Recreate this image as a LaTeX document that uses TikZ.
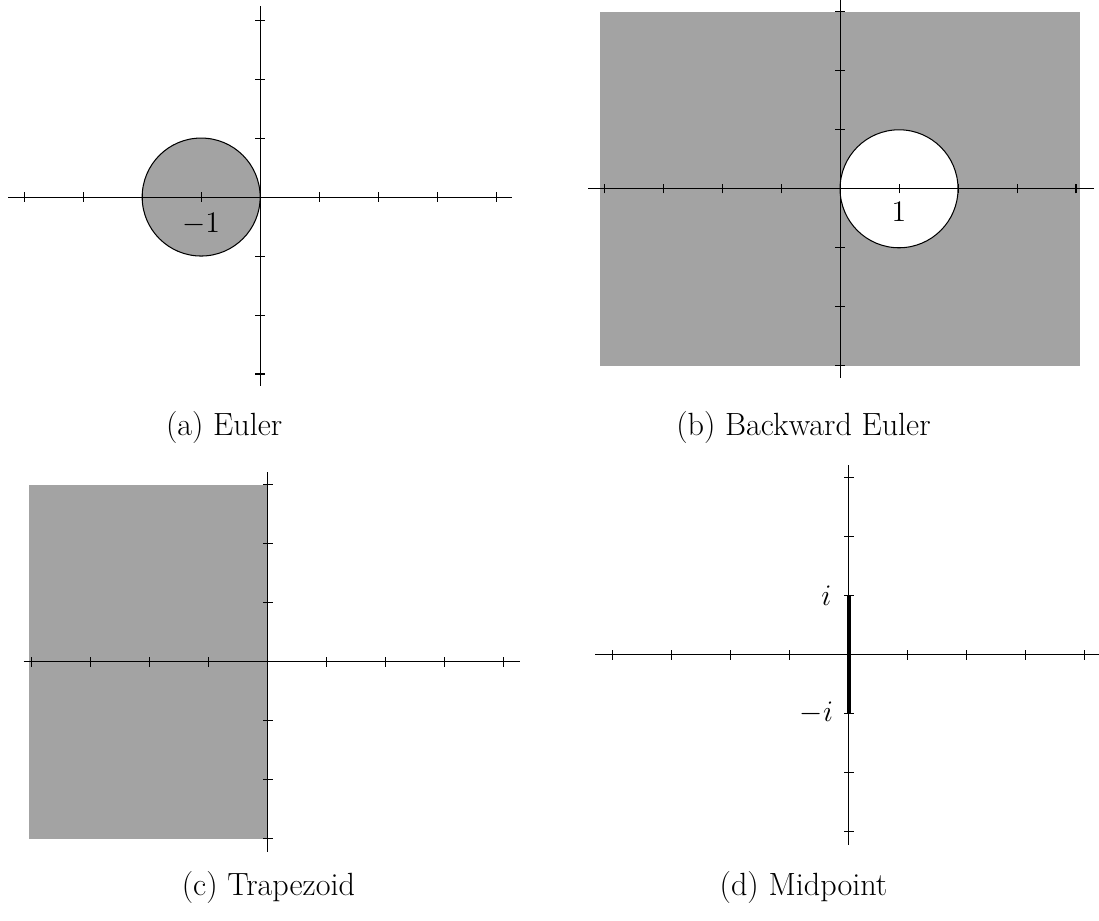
\documentclass[tikz,border=0pt]{standalone}
\usepackage{amsmath}
\usepackage{tikz}

\tikzset{
  axisline/.style={draw=black, line width=0.5pt},
  tickmark/.style={draw=black, line width=0.5pt},
  stabfill/.style={fill=black!36},
  rim/.style={draw=black, line width=0.5pt},
  captext/.style={font=\fontsize{15.5}{18}\selectfont}
}

\begin{document}
\begin{tikzpicture}[font=\Large]
  \useasboundingbox (0,0) rectangle (18.63,-15.61);

  % (a) Euler
  \begin{scope}[shift={(4.41,-3.34)}]
    \fill[stabfill] (-1,0) circle (1);
    \draw[rim] (-1,0) circle (1);
    \draw[axisline] (-4.27,0) -- (4.27,0);
    \draw[axisline] (0,-3.2) -- (0,3.24);
    \foreach \x in {-4,...,4} \draw[tickmark] (\x,-0.08) -- (\x,0.08);
    \foreach \y in {-3,...,3} \draw[tickmark] (-0.08,\y) -- (0.08,\y);
    \node (lblm1) at (-1,-0.46) {$-1$};
  \end{scope}
  \node[captext] (capa) at (3.80,-7.24) {(a) Euler};

  % (b) Backward Euler
  \begin{scope}[shift={(14.24,-3.20)}]
    \fill[stabfill] (-4.07,-3) rectangle (4.07,3);
    \fill[white] (1,0) circle (1);
    \draw[rim] (1,0) circle (1);
    \draw[axisline] (-4.27,0) -- (4.3,0);
    \draw[axisline] (0,-3.2) -- (0,3.2);
    \foreach \x in {-4,...,4} \draw[tickmark] (\x,-0.08) -- (\x,0.08);
    \foreach \y in {-3,...,3} \draw[tickmark] (-0.08,\y) -- (0.08,\y);
    \node (lblp1) at (1,-0.39) {$1$};
  \end{scope}
  \node[captext] (capb) at (13.62,-7.24) {(b) Backward Euler};

  % (c) Trapezoid
  \begin{scope}[shift={(4.54,-11.22)}]
    \fill[stabfill] (-4.05,-3) rectangle (0,3);
    \draw[axisline] (-4.14,0) -- (4.27,0);
    \draw[axisline] (0,-3.22) -- (0,3.22);
    \foreach \x in {-4,...,4} \draw[tickmark] (\x,-0.08) -- (\x,0.08);
    \foreach \y in {-3,...,3} \draw[tickmark] (-0.08,\y) -- (0.08,\y);
  \end{scope}
  \node[captext] (capc) at (4.55,-15.05) {(c) Trapezoid};

  % (d) Midpoint
  \begin{scope}[shift={(14.39,-11.10)}]
    \draw[axisline] (-4.3,0) -- (4.24,0);
    \draw[axisline] (0,-3.22) -- (0,3.22);
    \foreach \x in {-4,...,4} \draw[tickmark] (\x,-0.08) -- (\x,0.08);
    \foreach \y in {-3,...,3} \draw[tickmark] (-0.08,\y) -- (0.08,\y);
    \draw[line width=2.2pt] (0,-1) -- (0,1);
    \node (lbli) at (-0.38,1.0) {$i$};
    \node (lblmi) at (-0.55,-0.98) {$-i$};
  \end{scope}
  \node[captext] (capd) at (13.62,-15.05) {(d) Midpoint};
\end{tikzpicture}
\end{document}
